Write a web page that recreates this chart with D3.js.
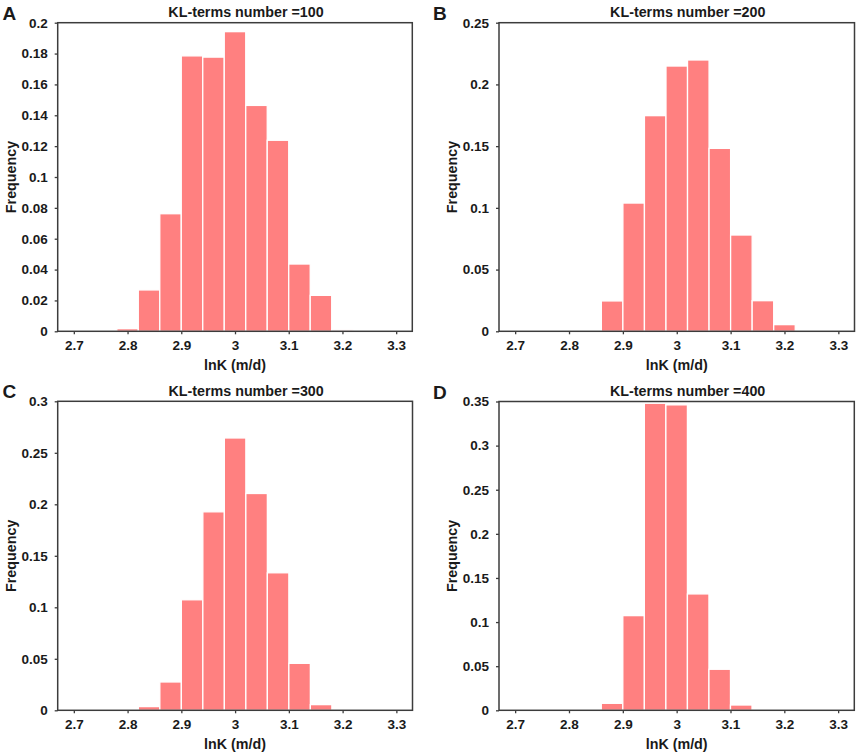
<!DOCTYPE html>
<html>
<head>
<meta charset="utf-8">
<script src="https://cdn.jsdelivr.net/npm/d3@7"></script>
<style>
  html, body { margin: 0; padding: 0; background: #fff; }
  svg { display: block; }
  text { font-family: "Liberation Sans", Arial, sans-serif; font-weight: bold; fill: #1a1a1a; }
</style>
</head>
<body>
<svg id="chart" width="858" height="755"></svg>
<script>
// ---- data ----
const panelLetters = ["A", "B", "C", "D"];
const panelTitles = ["KL-terms number =100", "KL-terms number =200", "KL-terms number =300", "KL-terms number =400"];
const binWidth = 0.04;
const binLeftA = [2.78, 2.82, 2.86, 2.90, 2.94, 2.98, 3.02, 3.06, 3.10, 3.14, 3.18];
const freqA    = [0.0017, 0.0268, 0.0762, 0.1785, 0.1777, 0.1942, 0.1464, 0.1238, 0.0436, 0.0233, 0.0009];
const binLeftB = [2.86, 2.90, 2.94, 2.98, 3.02, 3.06, 3.10, 3.14, 3.18];
const freqB    = [0.0246, 0.1039, 0.1747, 0.2149, 0.2198, 0.1482, 0.0780, 0.0248, 0.0054];
const binLeftC = [2.82, 2.86, 2.90, 2.94, 2.98, 3.02, 3.06, 3.10, 3.14];
const freqC    = [0.0036, 0.0275, 0.1073, 0.1927, 0.2644, 0.2105, 0.1335, 0.0456, 0.0055];
const binLeftD = [2.86, 2.90, 2.94, 2.98, 3.02, 3.06, 3.10];
const freqD    = [0.0079, 0.1073, 0.3480, 0.3462, 0.1319, 0.0465, 0.0060];
const yMaxes = [0.2, 0.25, 0.3, 0.35];
const yTicksA = [0, 0.02, 0.04, 0.06, 0.08, 0.1, 0.12, 0.14, 0.16, 0.18, 0.2];
const yTicksB = [0, 0.05, 0.1, 0.15, 0.2, 0.25];
const yTicksC = [0, 0.05, 0.1, 0.15, 0.2, 0.25, 0.3];
const yTicksD = [0, 0.05, 0.1, 0.15, 0.2, 0.25, 0.3, 0.35];
const xTicks = [2.7, 2.8, 2.9, 3.0, 3.1, 3.2, 3.3];
const xDomain = [2.670, 3.330];
const xLabel = "lnK (m/d)";
const yLabel = "Frequency";

// ---- layout ----
const panels = [
  { binLeft: binLeftA, freq: freqA, yTicks: yTicksA, left: 57.7, right: 412.3, top: 22.7, bottom: 331.3 },
  { binLeft: binLeftB, freq: freqB, yTicks: yTicksB, left: 499, right: 854.5, top: 22.7, bottom: 331.3 },
  { binLeft: binLeftC, freq: freqC, yTicks: yTicksC, left: 57.7, right: 412.5, top: 401.3, bottom: 710.3 },
  { binLeft: binLeftD, freq: freqD, yTicks: yTicksD, left: 499, right: 854.3, top: 401.5, bottom: 710.3 }
];
const barColor = "#ff8080";
const frameColor = "#3c3c3c";
const fmt = v => String(+v.toFixed(4));

const svg = d3.select("#chart");

panels.forEach((p, i) => {
  const x = d3.scaleLinear().domain(xDomain).range([p.left, p.right]);
  const y = d3.scaleLinear().domain([0, yMaxes[i]]).range([p.bottom, p.top]);
  const g = svg.append("g");

  // bars
  g.selectAll("rect.bar")
    .data(p.binLeft.map((b, j) => ({ x0: b, x1: b + binWidth, v: p.freq[j] })))
    .join("rect")
    .attr("class", "bar")
    .attr("x", d => x(d.x0))
    .attr("width", d => x(d.x1) - x(d.x0))
    .attr("y", d => y(d.v))
    .attr("height", d => y(0) - y(d.v))
    .attr("fill", barColor)
    .attr("stroke", "#ffffff")
    .attr("stroke-width", 1.3);

  // frame
  g.append("rect")
    .attr("x", p.left).attr("y", p.top)
    .attr("width", p.right - p.left).attr("height", p.bottom - p.top)
    .attr("fill", "none").attr("stroke", frameColor).attr("stroke-width", 1.5);

  // x axis
  const xa = g.append("g").attr("transform", `translate(0,${p.bottom})`)
    .call(d3.axisBottom(x).tickValues(xTicks).tickFormat(fmt).tickSize(3).tickPadding(6));
  xa.select(".domain").remove();
  xa.selectAll(".tick line").attr("stroke", frameColor).attr("stroke-width", 1.3);
  xa.selectAll(".tick text").attr("font-size", 13.5).attr("fill", "#1a1a1a")
    .style("font-family", '"Liberation Sans", Arial, sans-serif').style("font-weight", "bold");

  // y axis
  const ya = g.append("g").attr("transform", `translate(${p.left},0)`)
    .call(d3.axisLeft(y).tickValues(p.yTicks).tickFormat(fmt).tickSize(3).tickPadding(7));
  ya.select(".domain").remove();
  ya.selectAll(".tick line").attr("stroke", frameColor).attr("stroke-width", 1.3);
  ya.selectAll(".tick text").attr("font-size", 13.5).attr("fill", "#1a1a1a")
    .style("font-family", '"Liberation Sans", Arial, sans-serif').style("font-weight", "bold");

  // title
  g.append("text")
    .attr("x", (p.left + p.right) / 2 + 11)
    .attr("y", p.top - 5.5)
    .attr("text-anchor", "middle")
    .attr("font-size", 14.3)
    .text(panelTitles[i]);

  // x label
  g.append("text")
    .attr("x", (p.left + p.right) / 2)
    .attr("y", p.bottom + 38.5)
    .attr("text-anchor", "middle")
    .attr("font-size", 14.3)
    .text(xLabel);

  // y label
  g.append("text")
    .attr("transform", `translate(${p.left - 42},${(p.top + p.bottom) / 2}) rotate(-90)`)
    .attr("text-anchor", "middle")
    .attr("font-size", 14.3)
    .text(yLabel);

  // panel letter
  g.append("text")
    .attr("x", p.left < 200 ? 2.5 : 433)
    .attr("y", p.top - 3)
    .attr("font-size", 19)
    .attr("fill", "#000")
    .text(panelLetters[i]);
});
</script>
</body>
</html>
